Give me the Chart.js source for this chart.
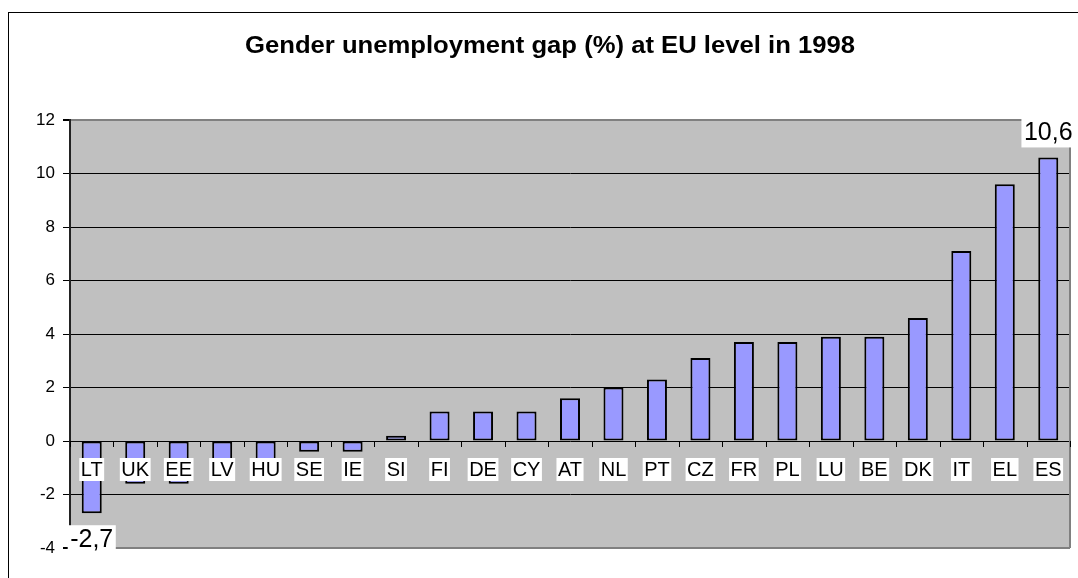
<!DOCTYPE html>
<html>
<head>
<meta charset="utf-8">
<script src="https://cdn.jsdelivr.net/npm/chart.js@4/dist/chart.umd.min.js"></script>
<style>
  body { margin: 0; background: #fff; }
  canvas { display: block; }
</style>
</head>
<body>
<canvas id="gapChart" width="1078" height="578"></canvas>
<script>
// Gender unemployment gap, 1998 (percentage points)
var categories = ['LT', 'UK', 'EE', 'LV', 'HU', 'SE', 'IE', 'SI', 'FI', 'DE', 'CY', 'AT',
                  'NL', 'PT', 'CZ', 'FR', 'PL', 'LU', 'BE', 'DK', 'IT', 'EL', 'ES'];
var gapValues = [-2.7, -1.6, -1.6, -1.2, -1.0, -0.4, -0.4, 0.2, 1.1, 1.1, 1.1, 1.6,
                 2.0, 2.3, 3.1, 3.7, 3.7, 3.9, 3.9, 4.6, 7.1, 9.6, 10.6];
var labelledBars = ['LT', 'ES'];
var yMin = -4, yMax = 12, yStep = 2;
var titleText = 'Gender unemployment gap (%) at EU level in 1998';

var FONT = '"Liberation Sans", Arial, sans-serif';

// background, frame and plot area fill
var backdrop = {
  id: 'backdrop',
  beforeDraw: function (chart) {
    var ctx = chart.ctx, a = chart.chartArea;
    ctx.save();
    ctx.fillStyle = '#fff';
    ctx.fillRect(0, 0, chart.width, chart.height);
    ctx.strokeStyle = '#000';
    ctx.lineWidth = 1;
    ctx.strokeRect(8.5, 12.5, 1200, 1200);
    ctx.fillStyle = '#c0c0c0';
    ctx.fillRect(a.left, a.top, a.right - a.left, a.bottom - a.top);
    ctx.restore();
  },
  afterDatasetsDraw: function (chart) {
    var ctx = chart.ctx, a = chart.chartArea;
    ctx.save();
    ctx.strokeStyle = '#808080';
    ctx.lineWidth = 2;
    ctx.beginPath();
    ctx.moveTo(a.right, a.top);
    ctx.lineTo(a.right, a.bottom);
    ctx.stroke();
    ctx.restore();
  }
};

// category ticks and labels sitting on the zero line, plus the end value labels
var zeroAxis = {
  id: 'zeroAxis',
  afterDraw: function (chart) {
    var ctx = chart.ctx;
    var xs = chart.scales.x, ys = chart.scales.y;
    var y0 = ys.getPixelForValue(0);
    var half = (xs.getPixelForValue(1) - xs.getPixelForValue(0)) / 2;
    ctx.save();

    ctx.strokeStyle = '#000';
    ctx.lineWidth = 1;
    ctx.beginPath();
    for (var i = 0; i <= categories.length; i++) {
      var bx = Math.round(xs.getPixelForValue(i) - half) + 0.5;
      ctx.moveTo(bx, y0);
      ctx.lineTo(bx, y0 + 6);
    }
    ctx.stroke();

    ctx.font = '20px ' + FONT;
    ctx.textAlign = 'center';
    ctx.textBaseline = 'middle';
    categories.forEach(function (c, i) {
      var cx = xs.getPixelForValue(i);
      var w = ctx.measureText(c).width + 3;
      ctx.fillStyle = '#fff';
      ctx.fillRect(cx - w / 2, y0 + 17, w, 23);
      ctx.fillStyle = '#000';
      ctx.fillText(c, cx, y0 + 29.5);
    });

    var meta = chart.getDatasetMeta(0);
    ctx.font = '25px ' + FONT;
    labelledBars.forEach(function (c) {
      var i = categories.indexOf(c);
      var v = gapValues[i];
      var bar = meta.data[i];
      var txt = v.toFixed(1).replace('.', ',');
      var w = ctx.measureText(txt).width + 5;
      var cy = v >= 0 ? bar.y - 25 : bar.y + 26;
      ctx.fillStyle = '#fff';
      ctx.fillRect(bar.x - w / 2, cy - 14, w, 29);
      ctx.fillStyle = '#000';
      ctx.fillText(txt, bar.x, cy + 1);
    });

    // title
    ctx.font = 'bold 23px ' + FONT;
    ctx.textBaseline = 'alphabetic';
    var tw = ctx.measureText(titleText).width;
    ctx.translate(550, 53);
    ctx.scale(610 / tw, 1);
    ctx.fillText(titleText, 0, 0);
    ctx.restore();
  }
};

new Chart(document.getElementById('gapChart'), {
  type: 'bar',
  data: {
    labels: categories,
    datasets: [{
      data: gapValues,
      backgroundColor: '#9999ff',
      borderColor: '#000',
      borderWidth: 2,
      borderSkipped: false,
      barPercentage: 0.46,
      categoryPercentage: 1
    }]
  },
  options: {
    responsive: false,
    animation: false,
    devicePixelRatio: 1,
    layout: { padding: { left: 0, top: 120, right: 8, bottom: 30 } },
    plugins: { legend: { display: false }, title: { display: false }, tooltip: { enabled: false } },
    scales: {
      x: { display: false },
      y: {
        min: yMin,
        max: yMax,
        afterFit: function (s) { s.width = 70; },
        ticks: {
          stepSize: yStep,
          padding: 8,
          color: '#000',
          font: { family: FONT, size: 17 }
        },
        grid: {
          color: function (c) {
            return (c.tick && (c.tick.value === yMax || c.tick.value === yMin)) ? '#808080' : '#000';
          },
          lineWidth: function (c) {
            return (c.tick && (c.tick.value === yMax || c.tick.value === yMin)) ? 2 : 1;
          },
          tickColor: '#000',
          tickLength: 7
        },
        border: { display: true, color: '#222', width: 2 }
      }
    }
  },
  plugins: [backdrop, zeroAxis]
});
</script>
</body>
</html>
